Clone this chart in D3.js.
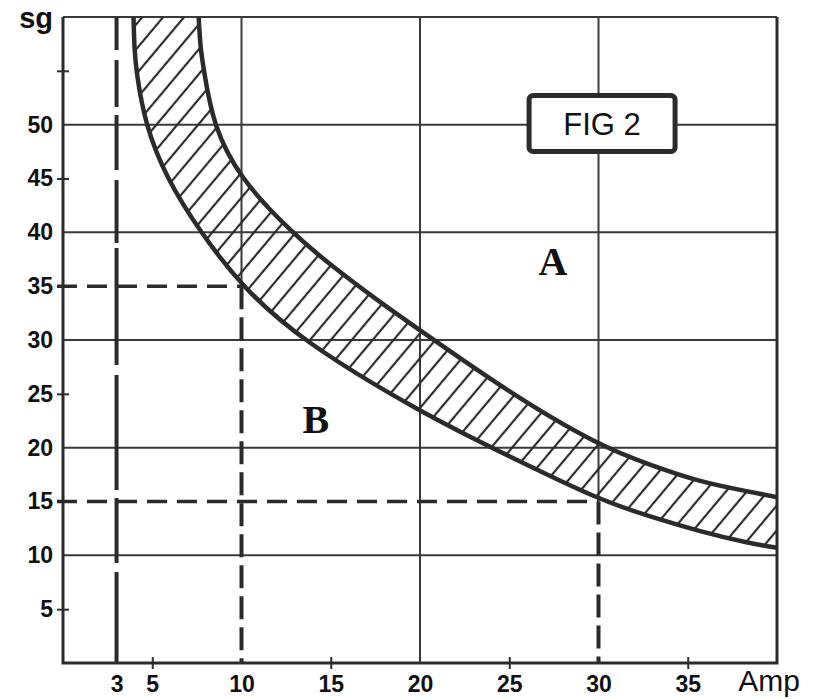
<!DOCTYPE html>
<html>
<head>
<meta charset="utf-8">
<script src="https://cdn.jsdelivr.net/npm/d3@7"></script>
<style>
  body { margin: 0; background: #fff; }
  svg { display: block; }
</style>
</head>
<body>
<div id="frame"></div>
<script>
// tick values
const sgLabels = [5, 10, 15, 20, 25, 30, 35, 40, 45, 50];
const sgMinor = [5, 15, 25, 45, 55];
const ampLabels = [3, 5, 10, 15, 20, 25, 30, 35];
const ampMinor = [5, 15, 25, 35];

// grid
const sgGrid = [10, 20, 30, 40, 50, 60];
const ampGrid = [10, 20, 30];
const ampGridLow = [35, 0, 15];   // vertical grid runs from the top down to this sg

// reference (dashed) lines
const refAmp = [10, 30];
const refSg = [35, 15];
const limitAmp = 3;

// band edges
const upperAmp = [7.6, 7.7, 7.9, 8.4, 9.9, 12.8, 15.1, 17.6, 20, 25, 30, 32.9, 35.7, 38.5, 40];
const upperSg = [60, 57, 55, 50, 45, 40, 36.8, 33.7, 30.9, 25.1, 20.2, 18.4, 16.8, 15.9, 15.4];
const lowerAmp = [3.95, 4.0, 4.1, 4.6, 5.8, 7.7, 10, 13.3, 20.1, 25, 30.1, 32.9, 35.7, 38.5, 40];
const lowerSg = [60, 57, 55, 50, 45, 40, 35, 30, 23.2, 19.2, 15.1, 13.6, 12.2, 11.1, 10.7];

const W = 814, H = 699;
const ink = '#2b2b2b';
const font = '"Liberation Sans", Arial, sans-serif';

let x = d3.scaleLinear().domain([0, 40]).range([63, 777]);
let y = d3.scaleLinear().domain([0, 60]).range([663, 17]);

let svg = d3.select('#frame')
    .append('svg')
    .attr('width', W)
    .attr('height', H);

let defs = svg.append('defs');
defs.append('clipPath').attr('id', 'plot')
    .append('rect')
    .attr('x', x(0)).attr('y', y(60))
    .attr('width', x(40) - x(0)).attr('height', y(0) - y(60));

//hatch pattern: vertical stripes turned to about 50 degrees
defs.append('pattern')
    .attr('id', 'hatch')
    .attr('patternUnits', 'userSpaceOnUse')
    .attr('width', 16).attr('height', 16)
    .attr('patternTransform', 'rotate(40)')
    .append('line')
    .attr('x1', 8).attr('x2', 8)
    .attr('y1', 0).attr('y2', 16)
    .attr('stroke', ink)
    .attr('stroke-width', 2.2);

//horizontal grid
svg.selectAll('.hgrid')
    .data(sgGrid)
    .enter()
    .append('line')
    .attr('x1', x(0)).attr('x2', x(40))
    .attr('y1', d => y(d)).attr('y2', d => y(d))
    .attr('stroke', '#3a3a3a')
    .attr('stroke-width', 2);

//vertical grid
svg.selectAll('.vgrid')
    .data(ampGrid)
    .enter()
    .append('line')
    .attr('x1', d => x(d)).attr('x2', d => x(d))
    .attr('y1', y(60)).attr('y2', (d, i) => y(ampGridLow[i]))
    .attr('stroke', '#3a3a3a')
    .attr('stroke-width', 2);

//band between the two curves
let upperPts = upperAmp.map((a, i) => [a, upperSg[i]]);
let lowerPts = lowerAmp.map((a, i) => [a, lowerSg[i]]);
let line = d3.line()
    .x(d => x(d[0]))
    .y(d => y(d[1]))
    .curve(d3.curveBasis);

let bandPath = line(upperPts) + 'L' + line(lowerPts.slice().reverse()).slice(1) + 'Z';

let band = svg.append('g').attr('clip-path', 'url(#plot)');
band.append('path')
    .attr('d', bandPath)
    .attr('fill', 'url(#hatch)');
band.selectAll('.edge')
    .data([upperPts, lowerPts])
    .enter()
    .append('path')
    .attr('d', line)
    .attr('fill', 'none')
    .attr('stroke', ink)
    .attr('stroke-width', 4.5);

//dashed line at 3 Amp
svg.append('line')
    .attr('x1', x(limitAmp)).attr('x2', x(limitAmp))
    .attr('y1', y(60)).attr('y2', y(0))
    .attr('stroke', ink)
    .attr('stroke-width', 4)
    .attr('stroke-dasharray', '33,10,47,8,55,10,63,5,117,10,115,8,65,9,100');

//dashed reference lines
svg.selectAll('.refh')
    .data(refSg)
    .enter()
    .append('line')
    .attr('x1', x(0) - 6).attr('x2', (d, i) => x(refAmp[i]))
    .attr('y1', d => y(d)).attr('y2', d => y(d))
    .attr('stroke', ink)
    .attr('stroke-width', 3.5)
    .attr('stroke-dasharray', '20,10');

svg.selectAll('.refv')
    .data(refAmp)
    .enter()
    .append('line')
    .attr('x1', d => x(d)).attr('x2', d => x(d))
    .attr('y1', (d, i) => y(refSg[i])).attr('y2', y(0))
    .attr('stroke', ink)
    .attr('stroke-width', 4)
    .attr('stroke-dasharray', '23,8');

//frame: left, bottom, right
svg.append('path')
    .attr('d', `M${x(0)},${y(60)} V${y(0)} H${x(40)} V${y(60)}`)
    .attr('fill', 'none')
    .attr('stroke', ink)
    .attr('stroke-width', 3);

//y axis labels
let yAxis = svg.append('g')
    .attr('transform', `translate(${x(0)},0)`)
    .call(d3.axisLeft(y).tickValues(sgLabels).tickSize(0).tickPadding(10));
yAxis.select('.domain').remove();
yAxis.selectAll('text')
    .style('font-family', font)
    .style('font-size', '23px')
    .style('font-weight', 'bold')
    .attr('fill', '#111');

//y minor ticks
let yMinor = svg.append('g')
    .attr('transform', `translate(${x(0) + 6},0)`)
    .call(d3.axisLeft(y).tickValues(sgMinor).tickSize(12).tickFormat(''));
yMinor.select('.domain').remove();
yMinor.selectAll('line').attr('stroke', ink).attr('stroke-width', 2);

//x axis labels
let xAxis = svg.append('g')
    .attr('transform', `translate(0,${y(0)})`)
    .call(d3.axisBottom(x).tickValues(ampLabels).tickSize(0).tickPadding(13));
xAxis.select('.domain').remove();
xAxis.selectAll('text')
    .style('font-family', font)
    .style('font-size', '23px')
    .style('font-weight', 'bold')
    .attr('fill', '#111');

//x minor ticks
let xMinor = svg.append('g')
    .attr('transform', `translate(0,${y(0) - 6})`)
    .call(d3.axisBottom(x).tickValues(ampMinor).tickSize(12).tickFormat(''));
xMinor.select('.domain').remove();
xMinor.selectAll('line').attr('stroke', ink).attr('stroke-width', 2);

//axis titles
svg.append('text')
    .attr('x', 53).attr('y', 28)
    .attr('text-anchor', 'end')
    .style('font-family', font)
    .style('font-size', '29px')
    .style('font-weight', 'bold')
    .attr('fill', '#111')
    .text('sg');

svg.append('text')
    .attr('x', 769).attr('y', 691)
    .attr('text-anchor', 'middle')
    .style('font-family', font)
    .style('font-size', '30px')
    .attr('fill', '#111')
    .text('Amp');

//region labels
svg.selectAll('.region')
    .data([{ t: 'A', a: 27.45, s: 36.0 }, { t: 'B', a: 14.17, s: 21.4 }])
    .enter()
    .append('text')
    .attr('x', d => x(d.a)).attr('y', d => y(d.s))
    .attr('text-anchor', 'middle')
    .style('font-family', '"Liberation Serif", "Times New Roman", serif')
    .style('font-size', '40px')
    .style('font-weight', 'bold')
    .attr('fill', '#111')
    .text(d => d.t);

//FIG 2 box
let fig = svg.append('g').attr('transform', `translate(${x(30.2)},${y(50.2)})`);
fig.append('rect')
    .attr('x', -73).attr('y', -27)
    .attr('width', 146).attr('height', 56)
    .attr('rx', 4)
    .attr('fill', '#fff')
    .attr('stroke', ink)
    .attr('stroke-width', 5);
fig.append('text')
    .attr('y', 12)
    .attr('text-anchor', 'middle')
    .style('font-family', font)
    .style('font-size', '31px')
    .attr('fill', '#111')
    .text('FIG 2');
</script>
</body>
</html>
